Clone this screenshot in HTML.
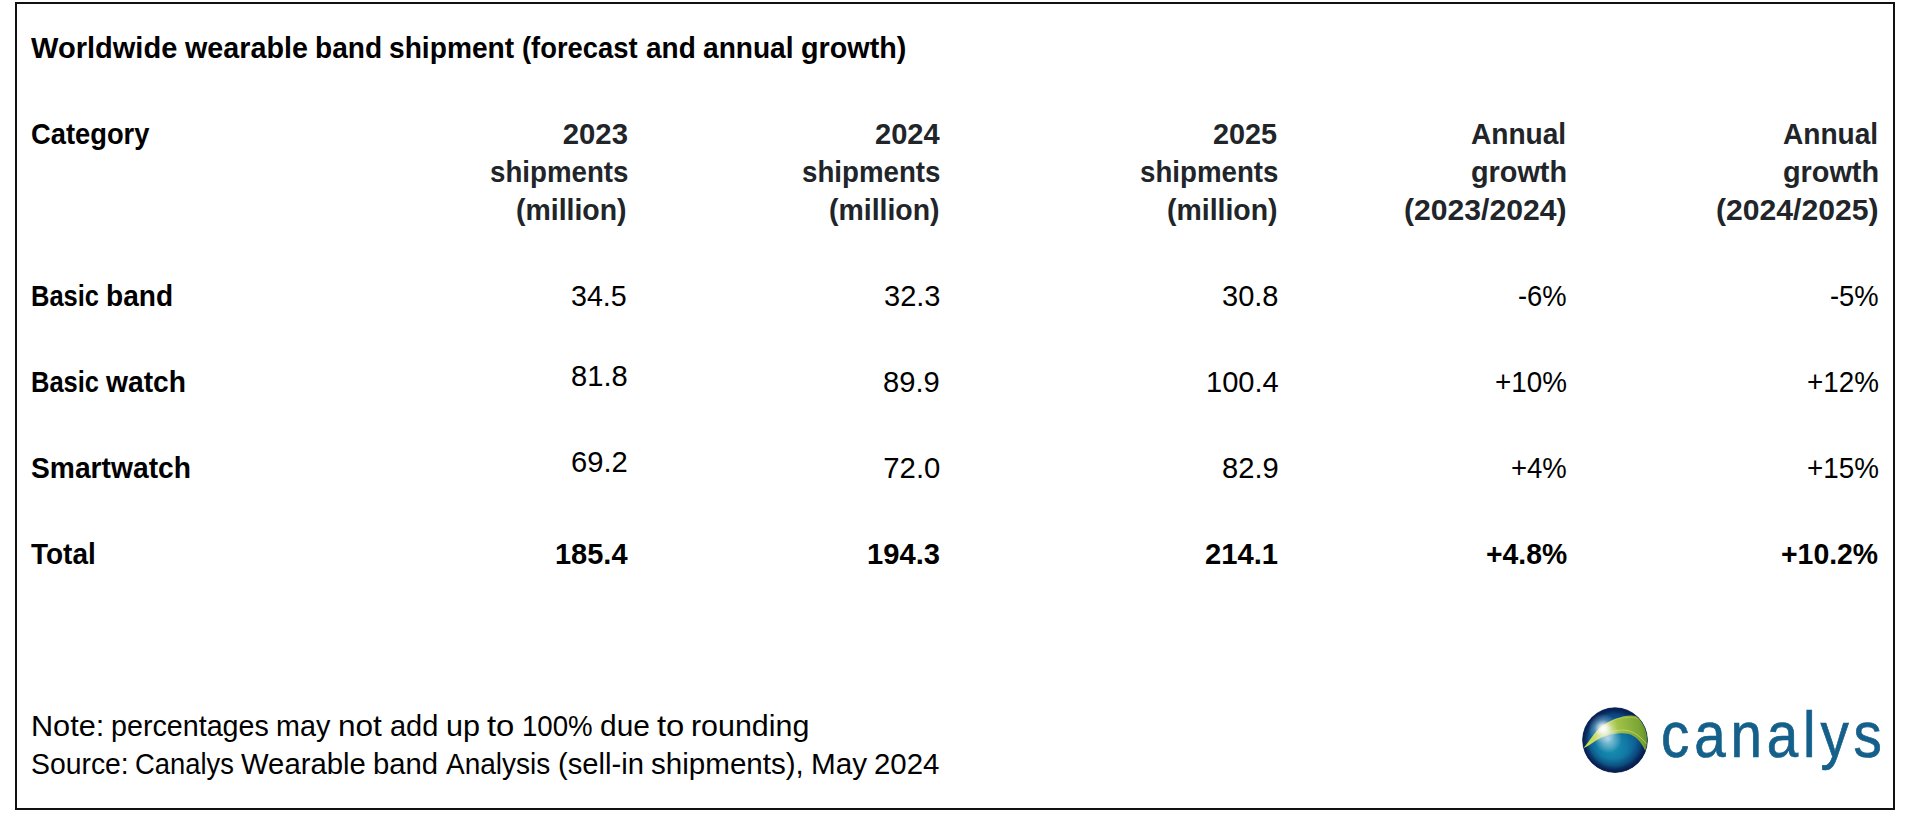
<!DOCTYPE html>
<html lang="en"><head><meta charset="utf-8"><title>Worldwide wearable band shipment (forecast and annual growth)</title>
<style>
html,body{margin:0;padding:0;background:#fff}
body{width:1906px;height:816px;position:relative;overflow:hidden;font-family:"Liberation Sans",sans-serif}
.box{position:absolute;left:15px;top:2px;width:1876px;height:804px;border:2px solid #111;background:#fff}
.t{position:absolute;left:0;width:100%;height:40px;line-height:40px;font-size:29.3px;color:#000;font-weight:400;white-space:nowrap}
.t span{position:absolute;top:0;transform-origin:0 0;white-space:pre}
.b{font-weight:700}
.th{color:#212529}
.logo{font-size:65.5px;color:#15608a;-webkit-text-stroke:.7px #15608a;letter-spacing:5.638px}
</style></head>
<body>
<div class="box">
<!-- title -->
<div class="t title b" style="top:24px"><span style="left:14.35px;transform:scaleX(0.9915)">Worldwide</span> <span style="left:167.85px;transform:scaleX(0.9799)">wearable</span> <span style="left:298.18px;transform:scaleX(0.9583)">band</span> <span style="left:372.39px;transform:scaleX(0.9612)">shipment</span> <span style="left:505.45px;transform:scaleX(0.9344)">(forecast</span> <span style="left:628.88px;transform:scaleX(0.9545)">and</span> <span style="left:686.38px;transform:scaleX(0.9590)">annual</span> <span style="left:783.62px;transform:scaleX(0.9809)">growth)</span></div>
<!-- header row -->
<div class="row head">
<div class="t th0 b" style="top:110px"><span style="left:13.68px;transform:scaleX(0.9323)">Category</span></div>
<div class="cell">
<div class="t th b" style="top:110px"><span style="left:545.77px;transform:scaleX(1.0000)">2023</span></div>
<div class="t th b" style="top:148px"><span style="left:472.61px;transform:scaleX(0.9445)">shipments</span></div>
<div class="t th b" style="top:186px"><span style="left:499.41px;transform:scaleX(0.9707)">(million)</span></div>
</div>
<div class="cell">
<div class="t th b" style="top:110px"><span style="left:858.18px;transform:scaleX(0.9922)">2024</span></div>
<div class="t th b" style="top:148px"><span style="left:785.01px;transform:scaleX(0.9445)">shipments</span></div>
<div class="t th b" style="top:186px"><span style="left:811.81px;transform:scaleX(0.9707)">(million)</span></div>
</div>
<div class="cell">
<div class="t th b" style="top:110px"><span style="left:1196.44px;transform:scaleX(0.9842)">2025</span></div>
<div class="t th b" style="top:148px"><span style="left:1123.26px;transform:scaleX(0.9445)">shipments</span></div>
<div class="t th b" style="top:186px"><span style="left:1150.06px;transform:scaleX(0.9707)">(million)</span></div>
</div>
<div class="cell">
<div class="t th b" style="top:110px"><span style="left:1454.37px;transform:scaleX(0.9585)">Annual</span></div>
<div class="t th b" style="top:148px"><span style="left:1453.67px;transform:scaleX(0.9841)">growth</span></div>
<div class="t th b" style="top:186px"><span style="left:1386.67px;transform:scaleX(1.0290)">(2023/2024)</span></div>
</div>
<div class="cell">
<div class="t th b" style="top:110px"><span style="left:1766.22px;transform:scaleX(0.9585)">Annual</span></div>
<div class="t th b" style="top:148px"><span style="left:1765.52px;transform:scaleX(0.9841)">growth</span></div>
<div class="t th b" style="top:186px"><span style="left:1698.52px;transform:scaleX(1.0290)">(2024/2025)</span></div>
</div>
</div>
<!-- data rows -->
<div class="row">
<div class="t rh b" style="top:272px"><span style="left:14.11px;transform:scaleX(0.8704)">Basic</span> <span style="left:89.18px;transform:scaleX(0.9583)">band</span></div>
<div class="t td" style="top:272px"><span style="left:554.19px;transform:scaleX(0.9771)">34.5</span></div>
<div class="t td" style="top:272px"><span style="left:866.58px;transform:scaleX(0.9908)">32.3</span></div>
<div class="t td" style="top:272px"><span style="left:1204.83px;transform:scaleX(0.9908)">30.8</span></div>
<div class="t td" style="top:272px"><span style="left:1500.84px;transform:scaleX(0.9347)">-6%</span></div>
<div class="t td" style="top:272px"><span style="left:1812.69px;transform:scaleX(0.9347)">-5%</span></div>
</div>
<div class="row">
<div class="t rh b" style="top:358px"><span style="left:14.11px;transform:scaleX(0.8704)">Basic</span> <span style="left:89.35px;transform:scaleX(0.9631)">watch</span></div>
<div class="t td" style="top:352px"><span style="left:553.92px;transform:scaleX(0.9954)">81.8</span></div>
<div class="t td" style="top:358px"><span style="left:866.32px;transform:scaleX(0.9954)">89.9</span></div>
<div class="t td" style="top:358px"><span style="left:1188.86px;transform:scaleX(0.9929)">100.4</span></div>
<div class="t td" style="top:358px"><span style="left:1477.73px;transform:scaleX(0.9488)">+10%</span></div>
<div class="t td" style="top:358px"><span style="left:1789.58px;transform:scaleX(0.9488)">+12%</span></div>
</div>
<div class="row">
<div class="t rh b" style="top:444px"><span style="left:13.89px;transform:scaleX(0.9632)">Smartwatch</span></div>
<div class="t td" style="top:438px"><span style="left:553.92px;transform:scaleX(0.9954)">69.2</span></div>
<div class="t td" style="top:444px"><span style="left:866.32px;transform:scaleX(1.0000)">72.0</span></div>
<div class="t td" style="top:444px"><span style="left:1204.57px;transform:scaleX(0.9954)">82.9</span></div>
<div class="t td" style="top:444px"><span style="left:1493.96px;transform:scaleX(0.9383)">+4%</span></div>
<div class="t td" style="top:444px"><span style="left:1789.58px;transform:scaleX(0.9488)">+15%</span></div>
</div>
<div class="row">
<div class="t rh b" style="top:530px"><span style="left:14.11px;transform:scaleX(0.9542)">Total</span></div>
<div class="t td b" style="top:530px"><span style="left:537.75px;transform:scaleX(0.9895)">185.4</span></div>
<div class="t td b" style="top:530px"><span style="left:850.13px;transform:scaleX(0.9965)">194.3</span></div>
<div class="t td b" style="top:530px"><span style="left:1187.88px;transform:scaleX(0.9965)">214.1</span></div>
<div class="t td b" style="top:530px"><span style="left:1468.69px;transform:scaleX(0.9664)">+4.8%</span></div>
<div class="t td b" style="top:530px"><span style="left:1764.32px;transform:scaleX(0.9695)">+10.2%</span></div>
</div>
<!-- notes -->
<div class="notes">
<div class="t note" style="top:702px"><span style="left:13.73px;transform:scaleX(1.0455)">Note:</span> <span style="left:93.83px;transform:scaleX(0.9787)">percentages</span> <span style="left:259.44px;transform:scaleX(0.9804)">may</span> <span style="left:321.20px;transform:scaleX(1.0771)">not</span> <span style="left:372.83px;transform:scaleX(0.9883)">add</span> <span style="left:428.68px;transform:scaleX(1.0419)">up</span> <span style="left:469.67px;transform:scaleX(1.1200)">to</span> <span style="left:504.83px;transform:scaleX(0.9433)">100%</span> <span style="left:582.62px;transform:scaleX(1.0208)">due</span> <span style="left:639.54px;transform:scaleX(1.1200)">to</span> <span style="left:673.99px;transform:scaleX(1.0377)">rounding</span></div>
<div class="t note" style="top:740px"><span style="left:13.65px;transform:scaleX(0.9682)">Source:</span> <span style="left:117.86px;transform:scaleX(0.9339)">Canalys</span> <span style="left:223.93px;transform:scaleX(0.9992)">Wearable</span> <span style="left:355.83px;transform:scaleX(0.9992)">band</span> <span style="left:428.77px;transform:scaleX(0.9553)">Analysis</span> <span style="left:540.93px;transform:scaleX(0.9962)">(sell-in</span> <span style="left:634.34px;transform:scaleX(1.0093)">shipments),</span> <span style="left:793.94px;transform:scaleX(1.0134)">May</span> <span style="left:857.42px;transform:scaleX(1.0032)">2024</span></div>
</div>
<!-- logo -->
<svg class="globe" viewBox="1578 702 74 76" width="74" height="76" style="position:absolute;left:1561px;top:698px;overflow:visible">
<defs>
<radialGradient id="gb" gradientUnits="userSpaceOnUse" cx="1612" cy="747" r="36">
<stop offset="0" stop-color="#1b92b3"/><stop offset=".4" stop-color="#117aa5"/><stop offset=".72" stop-color="#0c5a92"/><stop offset="1" stop-color="#0a3a74"/>
</radialGradient>
<radialGradient id="gr" gradientUnits="userSpaceOnUse" cx="1615" cy="740.1" r="32.4">
<stop offset="0" stop-color="#081c4c" stop-opacity="0"/><stop offset=".8" stop-color="#081c4c" stop-opacity="0"/><stop offset=".94" stop-color="#081c4c" stop-opacity=".7"/><stop offset="1" stop-color="#071a48" stop-opacity=".95"/>
</radialGradient>
<linearGradient id="gg" gradientUnits="userSpaceOnUse" x1="1588" y1="742" x2="1648" y2="735">
<stop offset="0" stop-color="#c9d84e"/><stop offset=".3" stop-color="#bcd256"/><stop offset=".6" stop-color="#98bb45"/><stop offset=".88" stop-color="#7aa434"/><stop offset="1" stop-color="#64902a"/>
</linearGradient>
<radialGradient id="gh" gradientUnits="userSpaceOnUse" cx="1603.2" cy="728.6" r="15">
<stop offset="0" stop-color="#fff" stop-opacity="1"/><stop offset=".22" stop-color="#fff" stop-opacity=".85"/><stop offset=".6" stop-color="#fff" stop-opacity=".25"/><stop offset="1" stop-color="#fff" stop-opacity="0"/>
</radialGradient>
<radialGradient id="gl" gradientUnits="userSpaceOnUse" cx="1608" cy="739" r="14">
<stop offset="0" stop-color="#cfe6f2" stop-opacity=".75"/><stop offset="1" stop-color="#cfe6f2" stop-opacity="0"/>
</radialGradient>
<radialGradient id="gs" gradientUnits="userSpaceOnUse" cx="1613.5" cy="736" r="37.5">
<stop offset="0" stop-color="#081c4c" stop-opacity="0"/><stop offset=".6" stop-color="#081c4c" stop-opacity="0"/><stop offset=".85" stop-color="#081c4c" stop-opacity=".45"/><stop offset="1" stop-color="#081c4c" stop-opacity=".9"/>
</radialGradient>
<clipPath id="gc"><circle cx="1615" cy="740.1" r="32.4"/></clipPath>
</defs>
<circle cx="1615" cy="740.1" r="32.4" fill="url(#gb)"/>
<circle cx="1615" cy="740.1" r="32.4" fill="url(#gs)"/>
<circle cx="1615" cy="740.1" r="32.4" fill="url(#gr)"/>
<g clip-path="url(#gc)">
<path d="M1584 747.8 C1589 741.5 1592.5 735.8 1596.6 731.1 C1601 726.5 1607 722 1615.2 718.8 C1622 716.3 1628 715.2 1632 715.5 C1636 715.8 1640 717 1644 719 L1652 730 L1652 756 L1645 750.4 C1643 746 1641 742.5 1637.6 739.2 C1634.5 736.5 1632 735 1629.2 734.1 C1626 733.2 1623 733 1619.9 733.2 C1617 733.5 1614 733.8 1610.6 734.6 C1607.5 735.5 1604.5 736.5 1601.3 737.8 C1598 739.5 1595 741.2 1592 743.2 C1589 745.2 1586.5 746.8 1584 747.8Z" fill="url(#gg)"/>
<path d="M1584 747.6 C1592 741 1600 736 1608 732.8 C1616 730 1623 729.5 1628 730.6 C1635 732.3 1641 737 1646.5 744" fill="none" stroke="#dbe46a" stroke-width=".9" stroke-opacity=".7"/>
<path d="M1598 729.5 C1606 722.5 1616 718.5 1626 717.5 C1632 717 1637 718 1642 720.5" fill="none" stroke="#d3df62" stroke-width=".8" stroke-opacity=".5"/>
<circle cx="1608" cy="739" r="14" fill="url(#gl)"/>
<circle cx="1603.2" cy="728.6" r="15" fill="url(#gh)"/>
</g>
<circle cx="1615" cy="740.1" r="32.4" fill="none" stroke="#0a2458" stroke-width="1" stroke-opacity=".55"/>
</svg>
<div class="t logo" style="top:711px"><span style="left:1643.81px;transform:scaleX(0.863)">canalys</span></div>
</div>
</body></html>
